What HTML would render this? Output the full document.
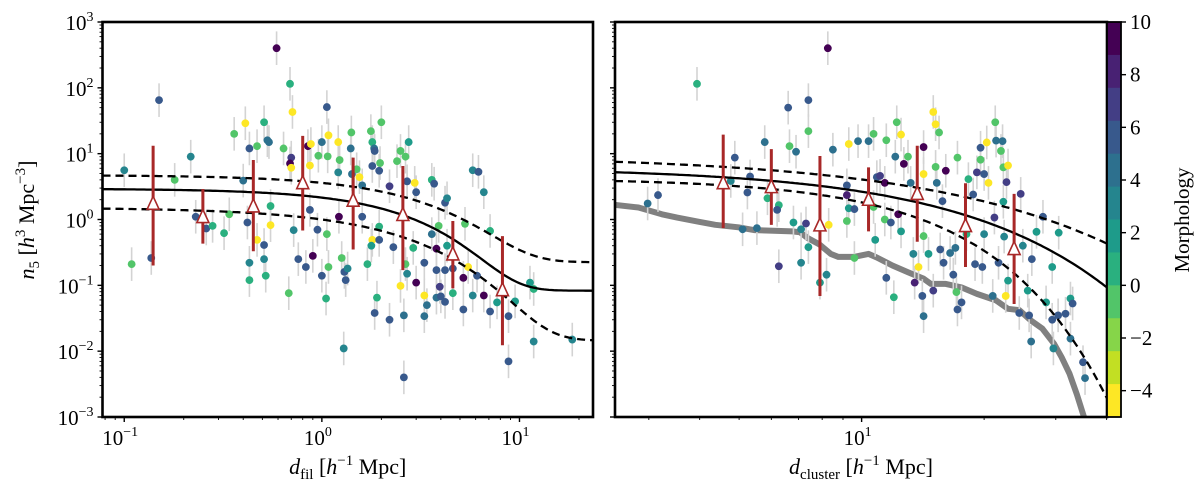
<!DOCTYPE html>
<html><head><meta charset="utf-8"><style>
html,body{margin:0;padding:0;background:#fff;}
svg{display:block;font-family:"Liberation Serif","DejaVu Serif",serif;}
</style></head><body>
<svg id="chart" width="1200" height="489" viewBox="0 0 1200 489" xmlns="http://www.w3.org/2000/svg">
<g id="gL"></g>
<g id="gR"></g>
<g id="gC"></g>
</svg>
<script>
// ---------- Left panel data (d_fil, n5, morphology) ----------
const filD = [0.1,0.15,0.109,0.137,0.217,0.18,0.23,0.26,0.28,0.32,0.34,0.36,0.41,0.40,0.43,0.42,0.43,0.43,0.47,0.47,0.51,0.51,0.51,0.52,0.53,0.54,0.55,0.55,0.59,0.64,0.69,0.71,0.70,0.69,0.70,0.68,0.72,0.76,0.85,0.88,0.87,0.87,0.83,0.9,0.95,0.96,1.0,1.06,1.07,1.08,1.06,1.08,1.0,1.05,1.21,1.23,1.21,1.22,1.26,1.3,1.32,1.35,1.29,1.41,1.4,1.42,1.5,1.55,1.6,1.77,1.8,1.84,1.85,1.8,1.6,1.8,1.78,1.7,1.9,1.85,1.97,1.95,2.0,1.95,1.95,2.2,2.3,2.2,2.4,2.5,2.65,2.75,2.6,2.6,2.7,2.65,2.7,2.5,2.95,3.0,3.0,2.9,3.3,3.3,3.4,3.3,3.6,3.7,3.6,3.8,3.9,3.8,3.8,4.0,4.2,4.2,4.3,4.3,4.2,3.95,4.6,4.6,5.2,5.3,5.5,5.2,5.8,6.2,6.6,6.1,5.8,6.6,7.1,7.1,7.7,8.8,8.8,9.5,11.3,11.8,11.8,18.5];
const filN = [5.6,65,0.21,0.26,9.0,4.0,1.1,0.73,0.8,0.62,1.2,20,29,3.9,12,0.9,0.22,0.12,0.49,13,30,0.41,0.25,0.14,16,15,1.6,0.82,400,12,115,43,8.7,7.1,6.1,0.076,0.69,0.25,13,14,6.6,1.4,0.19,0.28,0.7,9.3,15,51,9.1,19,0.6,0.19,0.14,0.063,15,8,5.2,1.1,0.26,0.16,0.12,0.18,0.011,21,12,4.9,5.8,4.4,1.1,22,15,12,11,6.5,3.3,0.49,0.4,0.21,0.065,0.038,7.2,5.5,30,0.78,0.49,3.2,0.38,0.03,7.7,11,9,15,0.035,0.004,3.8,0.21,0.15,0.098,3.6,2.6,0.11,0.37,0.07,0.034,0.05,0.22,4.0,3.5,0.6,0.36,0.8,0.17,0.065,0.068,0.056,1.8,2.1,0.4,0.17,0.095,0.18,0.076,0.043,0.86,0.19,0.13,5.6,5.3,2.6,0.14,0.07,0.07,0.67,0.04,0.055,0.034,0.007,0.057,0.11,0.088,0.014,0.015];
const filM = [3,6,-1,6,3,0,6,6,1,1,-1,-1,-4,5,6,6,3,1,-4,-1,1,6,3,1,4,4,1,-4,10,-1,1,-4,7,9,-4,-1,3,6,9,-4,-4,6,6,9,6,-1,4,6,-1,-4,-1,-1,6,1,-4,-1,3,9,-1,6,6,3,3,-1,4,4,-1,-4,6,-1,1,4,6,6,4,-4,2,1,1,6,-1,6,-1,1,6,7,6,6,-1,-1,-1,2,4,6,6,-1,3,-4,-4,6,9,1,-4,4,4,6,1,6,4,9,-1,6,4,6,6,6,3,2,6,7,6,1,6,-1,-4,9,3,6,3,6,3,9,1,6,2,6,6,2,2,1,3,3];
// binned medians (left)
const filBinD = [0.14,0.25,0.45,0.80,1.44,2.57,4.6,8.2];
const filBinN = [1.7,1.07,1.55,3.5,1.9,1.15,0.29,0.083];
const filBinLo = [0.2,0.43,0.33,0.68,0.35,0.17,0.09,0.0123];
const filBinHi = [13.2,2.9,8,18.6,8.7,6.5,0.95,0.56];
// model curves: [plateau A, floor B, scale x0, exponent q]
const filFitMid = [2.85,0.083,2.64,1.17];
const filFitUp  = [4.5,0.225,3.1,1.1];
const filFitLo  = [1.5,0.0145,2.44,0.97];

// ---------- Right panel data (d_cluster, n5, morphology) ----------
const cluD = [2.98,3.16,3.94,4.77,4.88,5.1,5.24,5.32,5.53,5.78,5.87,6.26,6.2,6.26,6.6,6.65,6.8,6.9,7.1,7.1,7.3,7.4,7.4,7.4,7.9,8.2,8.3,8.26,8.5,9.2,9.2,9.3,9.3,9.2,9.6,9.6,9.8,10.4,10.7,10.7,10.8,10.9,11.1,11.4,11.4,11.5,11.5,11.8,12.0,12.1,12.2,12.3,12.5,12.5,12.7,13.0,13.2,13.4,13.5,13.8,14.1,14.2,14.2,14.2,14.2,14.6,15.0,15.0,15.2,15.2,15.3,15.5,15.6,15.9,16.1,16.5,16.8,17.0,17.2,17.1,17.2,17.6,18.3,18.8,19.0,19.2,19.6,19.6,19.8,20.0,20.3,20.5,21.0,21.2,21.4,21.3,21.7,22.0,22.2,22.3,22.7,22.9,22.4,22.9,22.6,24.4,24.6,24.9,25.6,25.8,26.2,26.1,26.9,27.9,28.4,29.4,29.6,29.4,30.5,30.4,31.7,32.6,33.0,32.6,35.0,35.4,22.3,20.0,18.1,15.8];
const cluN = [1.75,2.35,115,3.85,8.7,0.71,2.57,4.5,0.74,15,2.1,1.65,1.4,0.195,50,13,0.9,10.7,0.71,0.22,0.87,65,22,0.38,0.11,0.145,0.83,400,11.5,2.35,3.3,14,1.48,0.95,1.44,0.26,15.5,15.5,20,1.55,0.49,4.4,4.6,3.6,1.0,0.13,16,0.9,0.066,9,30,1.2,0.66,19.5,7,9,3.6,0.3,0.11,0.19,0.069,12.6,0.034,4.9,0.56,0.3,43,0.083,28,6.3,3.6,21,0.35,0.22,5.5,0.31,0.145,0.37,8.7,0.079,0.043,0.055,4.1,2.4,0.21,5.2,12.3,8.1,0.19,4.9,14.8,3.6,0.069,1.07,15.8,30,0.22,11,15.5,6.2,3.7,6.6,0.55,0.118,0.069,0.038,2.45,0.4,0.083,0.035,0.25,0.014,0.65,1.1,0.055,0.19,0.011,0.03,0.63,0.035,0.037,0.063,0.053,0.0155,0.0068,0.0039,1.86,0.6,0.6,1.9];
const cluM = [5,6,1,3,6,5,6,6,5,5,1,1,6,7,6,-1,2,5,3,3,7,6,-1,2,2,3,-4,10,5,8,6,-4,2,-1,6,-1,4,4,-1,0,2,6,7,9,-1,6,-1,6,1,4,0,9,2,-4,9,-1,5,3,8,-4,6,9,4,-4,-1,2,-4,7,-4,-1,4,-1,6,6,9,5,6,5,-1,-1,6,6,1,6,6,7,6,-1,6,6,-4,-4,5,7,4,-1,6,-1,4,-1,7,-4,3,2,-4,6,7,3,2,6,6,4,2,6,2,2,3,6,2,6,6,2,6,4,6,5,2,3,1,6];
const cluBinD = [4.57,6.0,7.9,10.4,13.7,18.0,23.7];
const cluBinN = [3.5,3.05,0.8,1.96,2.4,0.78,0.35];
const cluBinLo = [0.74,0.83,0.069,0.66,0.46,0.19,0.052];
const cluBinHi = [19.5,11.7,9.2,6.2,13.2,3.55,2.45];
const cluFitMid = [6.2,0,11.5,1.15];
const cluFitUp  = [9.5,0,11.9,0.93];
const cluFitLo  = [4.2,0,11.2,1.6];
// completeness limit (grey line)
const limD = [2.47,2.83,3.23,3.52,4.0,4.37,4.98,5.44,6.76,7.06,7.38,7.87,8.4,8.77,9.57,10.4,10.9,11.9,13.0,14.2,14.8,16.1,17.6,19.2,21.4,22.9,24.4,26.1,27.8,29.7,31.0,32.4,33.8,35.2];
const limN = [1.67,1.52,1.2,1.07,0.92,0.83,0.76,0.69,0.66,0.64,0.52,0.42,0.3,0.27,0.27,0.3,0.265,0.2,0.158,0.126,0.105,0.105,0.093,0.074,0.059,0.044,0.042,0.029,0.022,0.013,0.0081,0.0046,0.0022,0.001];

// colorbar
const cbTicks = [10,8,6,4,2,0,-2,-4];
const cbMin = -5, cbMax = 10, cbBands = 12;
const viridis12 = ["#440154","#482173","#433e85","#38598c","#2d708e","#25858e","#1e9b8a","#2ab07f","#52c569","#86d549","#c2df23","#fde725"];

const NS = "http://www.w3.org/2000/svg";
function mk(tag, attrs, parent){ const e=document.createElementNS(NS,tag); for(const k in attrs) e.setAttribute(k,attrs[k]); if(parent) parent.appendChild(e); return e; }

const Y0=22, Y1=417;
function yS(v){ return Y0 + (3 - Math.log10(v))/6*(Y1-Y0); }
const L = {x0:102.5, x1:593, lmin:-1.11, lmax:1.372};
const R = {x0:615, x1:1107, lmin:0.394, lmax:1.603};
function xS(P, v){ return P.x0 + (Math.log10(v)-P.lmin)/(P.lmax-P.lmin)*(P.x1-P.x0); }
function colorOf(m){ let i=Math.floor((cbMax-m)/((cbMax-cbMin)/cbBands)); i=Math.max(0,Math.min(cbBands-1,i)); return viridis12[i]; }
function fit(p, x){ return p[1] + p[0]*Math.exp(-Math.pow(x/p[2], p[3])); }

function panel(g, P, D, N, M, bD, bN, bLo, bHi, fits, clipId, opts){
  const defs = mk("defs",{},g);
  const cp = mk("clipPath",{id:clipId},defs);
  mk("rect",{x:P.x0,y:Y0,width:P.x1-P.x0,height:Y1-Y0},cp);
  const data = mk("g",{"clip-path":"url(#"+clipId+")"},g);
  
  
  if(opts.lim){
    let d=""; opts.lim[0].forEach((x,i)=>{ d += (i?"L":"M")+xS(P,x).toFixed(1)+","+yS(opts.lim[1][i]).toFixed(1); });
    const gl = mk("path",{d:d,fill:"none",stroke:"#808080","stroke-width":6,"stroke-linejoin":"round"},data);
    
    
  }
  D.forEach((x,i)=>{
    const cx=xS(P,x);
    const eb = mk("line",{x1:cx,x2:cx,y1:yS(N[i]*1.8),y2:yS(N[i]/1.8),stroke:"#d3d3d3","stroke-width":1.6},data);
    
    
  });
  D.forEach((x,i)=>{
    const c = mk("circle",{cx:xS(P,x),cy:yS(N[i]),r:3.9,fill:colorOf(M[i])},data);
    
    
  });
  const names=['fit-median-line','fit-upper-dashed','fit-lower-dashed'];
  fits.forEach((p,k)=>{
    let d="";
    for(let s=0;s<=200;s++){ const lx=P.lmin+(P.lmax-P.lmin)*s/200; const x=Math.pow(10,lx); d+=(s?"L":"M")+xS(P,x).toFixed(1)+","+yS(fit(p,x)).toFixed(1); }
    const a={d:d,fill:"none",stroke:"#000","stroke-width":2.3};
    if(k>0) a["stroke-dasharray"]="8,5";
    const pth = mk("path",a,data);
    
    
  });
  bD.forEach((x,i)=>{
    const cx=xS(P,x);
    const l = mk("line",{x1:cx,x2:cx,y1:yS(bHi[i]),y2:yS(bLo[i]),stroke:"#a82828","stroke-width":3},data);
    
    
  });
  bD.forEach((x,i)=>{
    const cx=xS(P,x), cy=yS(bN[i]);
    const t = mk("polygon",{points:`${cx},${cy-8} ${cx-6},${cy+5} ${cx+6},${cy+5}`,fill:"#fff",stroke:"#a82828","stroke-width":1.6},data);
    
    
  });
  const fr = mk("rect",{x:P.x0,y:Y0,width:P.x1-P.x0,height:Y1-Y0,fill:"none",stroke:"#000","stroke-width":2.6},g);
  
  
  const yt = mk("g",{stroke:"#000"},g);
  
  
  for(let e=-3;e<=3;e++){
    const y=yS(Math.pow(10,e));
    mk("line",{x1:P.x0-5,x2:P.x0,y1:y,y2:y,"stroke-width":1.4},yt);
    if(e<3) for(let m=2;m<=9;m++){ const ym=yS(m*Math.pow(10,e)); mk("line",{x1:P.x0-3,x2:P.x0,y1:ym,y2:ym,"stroke-width":0.9},yt); }
    if(opts.yLabels){
      const t = mk("text",{x:P.x0-9,y:y+8,"text-anchor":"end","font-size":21,fill:"#000"},g);
      
      
      t.innerHTML = '10<tspan dy="-9" font-size="14">'+(e<0?'\u2212'+(-e):e)+'</tspan>';
    }
  }
  const xt = mk("g",{stroke:"#000"},g);
  
  
  for(let e=-2;e<=2;e++){
    for(let m=1;m<=9;m++){
      const v=m*Math.pow(10,e), lv=Math.log10(v);
      if(lv<P.lmin-1e-6||lv>P.lmax+1e-6) continue;
      const x=xS(P,v);
      mk("line",{x1:x,x2:x,y1:Y1,y2:Y1+(m==1?5:3),"stroke-width":m==1?1.4:0.9},xt);
      if(m==1){
        const t = mk("text",{x:x-4,y:Y1+28,"text-anchor":"middle","font-size":21,fill:"#000"},g);
        
        
        t.innerHTML = '10<tspan dy="-9" font-size="14">'+(e<0?'\u2212'+(-e):e)+'</tspan>';
      }
    }
  }
  const xl = mk("text",{x:(P.x0+P.x1)/2,y:474,"text-anchor":"middle","font-size":22,fill:"#000"},g);
  
  
  xl.innerHTML = '<tspan font-style="italic">d</tspan><tspan font-size="15" dy="5">'+opts.sub+'</tspan><tspan dy="-5"> [</tspan><tspan font-style="italic">h</tspan><tspan font-size="15" dy="-9">\u22121</tspan><tspan dy="9"> Mpc]</tspan>';
}

const gL=document.getElementById('gL'), gR=document.getElementById('gR'), gC=document.getElementById('gC');
panel(gL,L,filD,filN,filM,filBinD,filBinN,filBinLo,filBinHi,[filFitMid,filFitUp,filFitLo],'clipL',{yLabels:true,sub:'fil'});
panel(gR,R,cluD,cluN,cluM,cluBinD,cluBinN,cluBinLo,cluBinHi,[cluFitMid,cluFitUp,cluFitLo],'clipR',{yLabels:false,sub:'cluster',lim:[limD,limN]});

const yl = mk("text",{transform:"translate(34,220) rotate(-90)","text-anchor":"middle","font-size":22,fill:"#000"},gL);


yl.innerHTML = '<tspan font-style="italic">n</tspan><tspan font-size="15" dy="5">5</tspan><tspan dy="-5"> [</tspan><tspan font-style="italic">h</tspan><tspan font-size="15" dy="-9">3</tspan><tspan dy="9"> Mpc</tspan><tspan font-size="15" dy="-9">\u22123</tspan><tspan dy="9">]</tspan>';

const CX0=1107, CX1=1121;
const bh=(Y1-Y0)/cbBands;
for(let i=0;i<cbBands;i++){
  const r = mk("rect",{x:CX0,y:Y0+i*bh,width:CX1-CX0,height:bh+0.5,fill:viridis12[i]},gC);
  
  
}
const cbf = mk("rect",{x:CX0,y:Y0,width:CX1-CX0,height:Y1-Y0,fill:"none",stroke:"#000","stroke-width":1.8},gC);


cbTicks.forEach(v=>{
  const y=Y0+(cbMax-v)/(cbMax-cbMin)*(Y1-Y0);
  mk("line",{x1:CX1,x2:CX1+5,y1:y,y2:y,stroke:"#000","stroke-width":1.4},gC);
  const t = mk("text",{x:CX1+9,y:y+7,"font-size":21,fill:"#000"},gC);
  
  
  t.textContent = v<0 ? '\u2212'+(-v) : String(v);
});
const ct = mk("text",{transform:"translate(1189,220) rotate(-90)","text-anchor":"middle","font-size":21,fill:"#000"},gC);


ct.textContent = 'Morphology';
</script>
</body></html>
